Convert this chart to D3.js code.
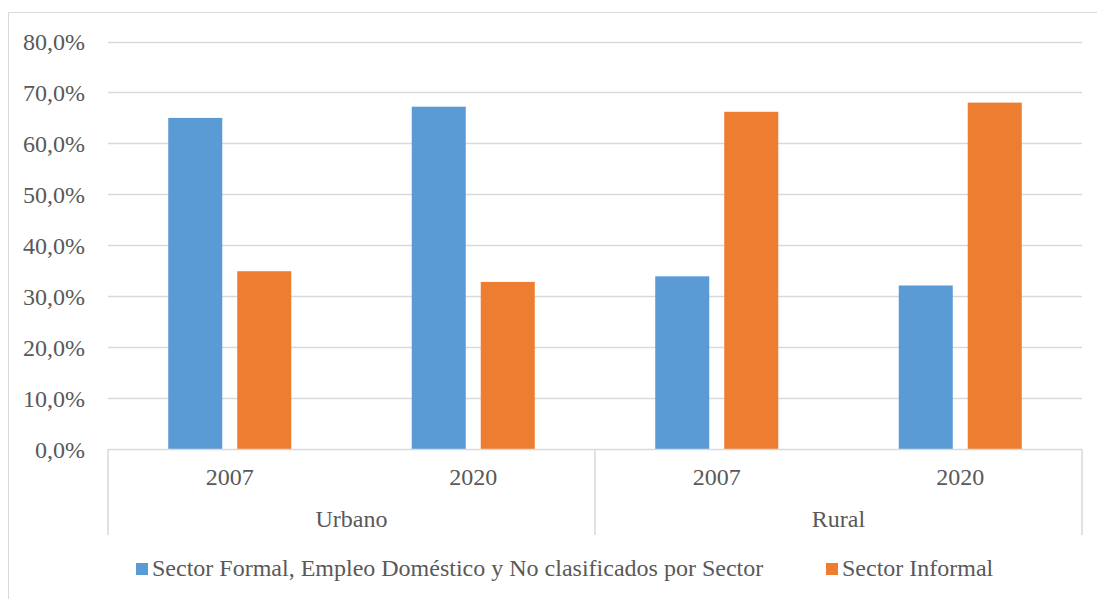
<!DOCTYPE html>
<html><head><meta charset="utf-8">
<script src="https://cdn.jsdelivr.net/npm/d3@7"></script>
<style>body{margin:0;background:#fff}svg{display:block}</style>
</head><body><svg id="c" width="1097" height="599"></svg>
<script>
const groups = ["Urbano", "Rural"];
const years = ["2007", "2020"];
const categories = [["Urbano","2007"],["Urbano","2020"],["Rural","2007"],["Rural","2020"]];
const seriesNames = ["Sector Formal, Empleo Doméstico y No clasificados por Sector", "Sector Informal"];
const formal = [65.0, 67.2, 33.9, 32.1];
const informal = [34.9, 32.8, 66.2, 68.0];
const yTicks = [0,10,20,30,40,50,60,70,80];
const colors = ["#5b9bd5", "#ed7d31"];

const FONT = "'Liberation Serif', 'Times New Roman', serif";
const svg = d3.select("#c");
svg.attr("font-family", FONT);
const L = 108, R = 1082, T = 41.5, B = 449;
svg.append("rect").attr("x",8.5).attr("y",12.5).attr("width",1100).attr("height",600)
  .attr("fill","none").attr("stroke","#d9d9d9").attr("stroke-width",1);

const y = d3.scaleLinear().domain([0,80]).range([B,T]);
const x = d3.scaleBand().domain(d3.range(categories.length)).range([L,R]).paddingInner(0).paddingOuter(0);
const xs = d3.scaleBand().domain([0,1]).range([0,x.bandwidth()]).paddingInner(0.217).paddingOuter(0.873);

svg.append("g").selectAll("line").data(yTicks.filter(d=>d>0)).join("line")
  .attr("x1",L).attr("x2",R).attr("y1",d=>Math.round(y(d))+0.5).attr("y2",d=>Math.round(y(d))+0.5)
  .attr("stroke","#d9d9d9").attr("stroke-width",1.5);

const fmt = d => d.toFixed(1).replace(".", ",") + "%";
const txt = sel => sel.attr("font-family", FONT).attr("fill", "#595959").attr("font-size", 24);

svg.append("g").selectAll("text").data(yTicks).join("text")
  .attr("x",85).attr("y",d=>y(d)+8.5).attr("text-anchor","end").call(txt).text(fmt);

const series = [formal, informal];
series.forEach((vals,si)=>{
  svg.append("g").selectAll("rect").data(vals).join("rect")
    .attr("x",(d,i)=>x(i)+xs(si)).attr("width",xs.bandwidth())
    .attr("y",d=>y(d)).attr("height",d=>B-y(d)).attr("fill",colors[si]);
});

svg.append("line").attr("x1",L).attr("x2",R).attr("y1",B+0.5).attr("y2",B+0.5).attr("stroke","#d9d9d9").attr("stroke-width",1.5);
const sepX = [L, x(2), R];
svg.append("g").selectAll("line").data(sepX).join("line")
  .attr("x1",d=>d).attr("x2",d=>d).attr("y1",B).attr("y2",535)
  .attr("stroke","#d9d9d9").attr("stroke-width",1.5);

svg.append("g").selectAll("text").data(categories).join("text")
  .attr("x",(d,i)=>x(i)+x.bandwidth()/2).attr("y",485).attr("text-anchor","middle").call(txt)
  .text(d=>d[1]);
svg.append("g").selectAll("text").data(groups).join("text")
  .attr("x",(d,i)=>x(i*2)+x.bandwidth()).attr("y",527).attr("text-anchor","middle").call(txt)
  .text(d=>d);

const legX = [136, 826];
seriesNames.forEach((n,i)=>{
  svg.append("rect").attr("x",legX[i]).attr("y",563).attr("width",12).attr("height",12).attr("fill",colors[i]);
  svg.append("text").attr("x",legX[i]+16).attr("y",576).call(txt).text(n);
});
</script></body></html>
